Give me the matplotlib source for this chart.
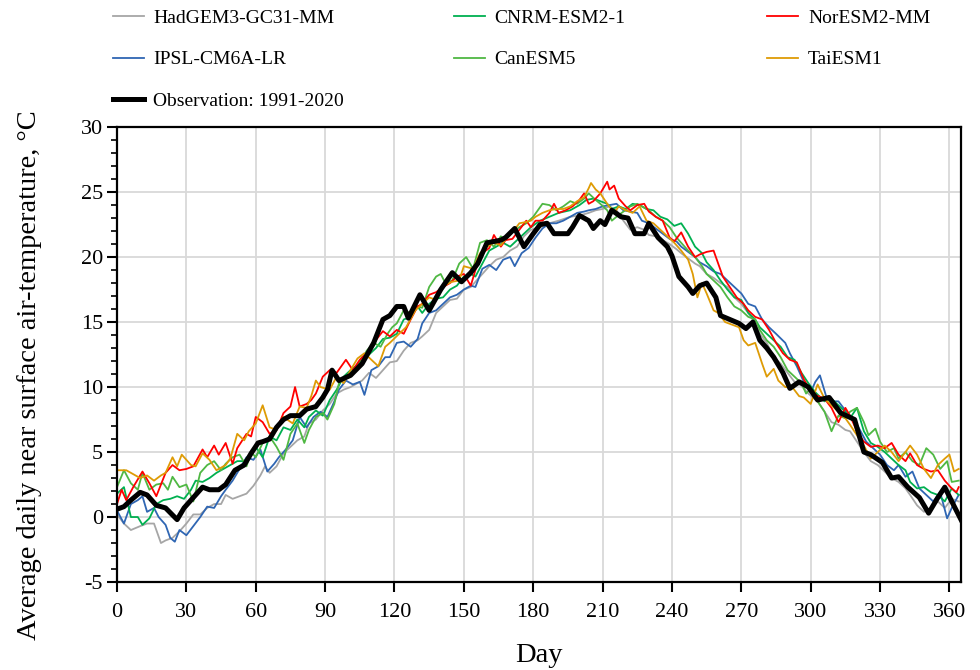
import matplotlib
matplotlib.use("Agg")
import matplotlib.pyplot as plt
from matplotlib.ticker import MultipleLocator

plt.rcParams['font.family'] = ['Liberation Serif', 'DejaVu Serif']
plt.rcParams['axes.unicode_minus'] = False

# (day, temperature)
hadgem = [(0,0.2),(3,-0.5),(6,-1.0),(10,-0.7),(13,-0.5),(16,-0.5),(19,-2.0),(21,-1.8),(24,-1.6),(27,-1.1),(30,-0.5),(33,0.2),(36,0.2),(39,0.7),(42,1.0),(45,1.0),(47,1.7),(50,1.4),(53,1.6),(56,1.8),(59,2.4),(62,3.2),(64,3.9),(66,3.4),(69,3.9),(72,4.9),(75,5.4),(78,5.9),(81,6.2),(83,7.2),(86,7.5),(89,8.2),(92,8.7),(95,9.5),(98,9.8),(101,10.0),(104,10.3),(106,10.5),(109,11.1),(112,10.7),(115,11.3),(118,11.9),(121,12.0),(124,12.8),(127,13.4),(130,13.6),(132,13.9),(135,14.4),(138,15.7),(141,16.2),(144,16.7),(147,16.8),(150,17.5),(153,17.7),(155,18.1),(158,18.7),(161,19.3),(164,19.8),(167,20.0),(170,20.5),(173,20.8),(176,21.6),(179,22.1),(183,22.3),(187,22.6),(191,22.8),(196,23.1),(200,23.2),(204,23.4),(207,23.6),(210,23.7),(213,23.9),(216,23.6),(219,22.8),(222,22.1),(225,22.3),(228,22.1),(230,21.7),(233,21.6),(236,21.3),(239,21.0),(242,20.6),(244,20.3),(247,19.9),(250,19.5),(252,19.3),(255,18.7),(258,18.4),(261,18.0),(264,17.7),(267,16.9),(270,16.4),(273,15.7),(276,14.9),(278,14.1),(281,13.4),(284,12.3),(287,11.8),(290,11.1),(293,10.4),(296,10.1),(299,9.5),(303,8.9),(306,8.1),(309,7.3),(312,7.1),(315,6.7),(317,6.6),(320,5.8),(323,5.0),(326,4.3),(329,4.0),(332,3.5),(335,3.0),(338,2.7),(341,2.2),(343,1.7),(346,0.9),(349,0.4),(352,0.7),(355,1.2),(358,0.7),(361,1.4),(364,1.2)]

cnrm = [(0,1.8),(3,2.3),(6,0.0),(9,0.0),(11,-0.6),(14,-0.1),(17,1.0),(20,1.3),(23,1.4),(26,1.6),(29,1.4),(32,2.1),(34,2.8),(37,2.7),(40,3.0),(43,3.4),(46,3.7),(49,4.0),(52,4.3),(55,4.3),(58,4.9),(60,5.4),(63,4.6),(66,6.2),(69,5.9),(72,6.9),(75,6.7),(78,7.5),(81,6.9),(83,7.7),(86,8.2),(89,7.8),(92,9.0),(95,9.8),(98,10.8),(101,11.3),(104,11.7),(106,12.3),(109,12.5),(112,13.0),(115,13.7),(118,13.8),(121,14.1),(124,15.2),(127,15.4),(130,16.2),(132,15.7),(135,16.4),(138,16.8),(141,16.9),(144,17.5),(147,17.8),(150,18.5),(153,18.7),(155,18.5),(158,19.5),(161,20.5),(164,20.8),(167,21.1),(170,20.8),(173,21.3),(176,21.8),(179,22.3),(183,22.8),(187,23.1),(191,23.4),(196,23.6),(200,24.0),(203,24.4),(206,24.5),(209,24.3),(212,24.1),(214,23.7),(217,23.9),(220,23.7),(223,24.1),(226,24.0),(229,23.7),(232,23.6),(235,23.1),(238,22.9),(241,22.4),(244,22.6),(247,21.8),(250,20.8),(253,20.3),(255,19.6),(258,19.0),(261,18.2),(264,17.5),(267,16.9),(270,16.7),(273,15.7),(276,15.2),(278,14.6),(281,14.1),(284,13.6),(287,13.1),(290,12.3),(293,12.1),(296,11.1),(299,10.3),(302,9.6),(306,8.9),(309,9.1),(312,8.6),(315,8.1),(317,7.6),(320,8.4),(323,6.6),(326,5.7),(329,5.4),(332,5.0),(335,4.5),(338,4.0),(341,3.6),(343,2.7),(346,2.2),(349,2.3),(352,1.9),(355,1.7),(358,1.2),(361,2.2),(364,1.7)]

noresm = [(0,1.0),(2,2.1),(4,1.3),(7,2.3),(11,3.5),(14,2.6),(17,1.6),(21,3.4),(24,4.0),(27,3.6),(30,3.7),(33,3.9),(37,5.2),(39,4.6),(42,5.5),(44,4.8),(47,5.7),(50,4.1),(52,5.3),(56,6.4),(58,6.2),(60,7.7),(63,7.3),(66,6.4),(69,6.7),(72,8.0),(75,8.5),(77,10.0),(79,8.5),(82,8.7),(84,9.0),(86,9.5),(89,10.8),(92,11.3),(95,11.1),(99,12.1),(102,11.3),(105,12.1),(108,12.6),(111,13.4),(115,14.3),(118,13.9),(121,14.4),(124,14.1),(127,15.2),(130,16.2),(132,16.4),(135,17.1),(138,17.3),(141,17.7),(144,18.0),(147,18.5),(150,18.7),(153,17.8),(155,19.0),(158,20.3),(161,20.7),(163,21.7),(166,20.8),(168,21.3),(171,21.4),(174,22.1),(177,22.8),(179,22.3),(181,22.8),(184,22.8),(187,23.4),(189,24.1),(191,23.4),(194,23.6),(197,23.9),(200,24.4),(202,24.9),(204,24.1),(206,24.3),(209,24.9),(212,25.8),(213,25.2),(215,25.5),(217,24.5),(220,23.9),(222,23.6),(225,24.0),(228,24.1),(230,23.5),(233,23.1),(236,22.8),(239,21.5),(241,21.2),(244,21.9),(247,20.8),(250,20.0),(252,20.2),(255,20.4),(258,20.5),(260,19.5),(262,18.5),(265,17.7),(268,16.9),(271,16.4),(273,15.9),(276,15.4),(279,15.2),(282,14.4),(285,13.4),(288,12.6),(291,12.1),(294,11.9),(297,10.6),(299,10.0),(302,9.4),(306,9.1),(309,8.4),(312,7.3),(315,8.4),(317,7.8),(320,6.6),(323,5.8),(326,5.4),(329,5.5),(332,5.3),(335,5.7),(338,4.8),(341,4.3),(343,4.9),(346,4.0),(349,3.7),(352,3.5),(355,3.6),(358,2.8),(361,2.2),(363,1.9),(364,2.3)]

ipsl = [(0,0.5),(3,-0.5),(6,1.0),(9,1.3),(11,1.6),(13,0.4),(16,0.7),(18,0.0),(21,-0.6),(23,-1.6),(25,-1.9),(27,-1.0),(30,-1.4),(33,-0.7),(36,0.0),(39,0.8),(42,0.7),(45,1.6),(47,2.1),(50,2.8),(53,3.7),(56,4.6),(59,4.4),(62,5.2),(65,3.5),(68,4.1),(70,4.6),(73,5.2),(76,5.9),(79,7.7),(82,6.9),(85,7.7),(88,8.1),(91,7.7),(94,8.9),(96,9.8),(99,10.5),(102,10.2),(105,10.4),(107,9.4),(110,11.3),(113,11.6),(116,12.3),(118,12.3),(121,13.4),(124,13.5),(127,13.1),(130,13.7),(132,14.9),(135,15.7),(138,15.9),(141,16.4),(144,16.9),(147,17.1),(150,17.5),(153,17.8),(155,17.7),(158,19.1),(161,19.4),(164,19.0),(167,19.8),(170,20.0),(172,19.3),(175,20.3),(178,20.7),(181,21.5),(184,22.2),(187,22.6),(190,22.6),(193,22.8),(196,23.1),(199,23.4),(202,23.5),(204,23.6),(207,23.7),(210,23.9),(213,24.0),(216,24.1),(219,23.6),(222,23.5),(225,23.4),(227,22.8),(230,22.6),(233,22.2),(236,21.8),(239,21.4),(242,21.2),(244,20.8),(247,20.4),(250,20.0),(252,19.6),(255,19.3),(258,18.9),(261,18.7),(264,18.2),(267,17.7),(270,17.2),(273,16.4),(276,16.2),(279,15.2),(282,14.6),(285,14.1),(289,13.4),(291,12.6),(294,11.6),(297,10.4),(300,9.6),(302,10.4),(304,10.9),(307,9.1),(310,8.9),(312,8.9),(315,8.2),(318,7.6),(321,6.8),(324,5.8),(327,5.3),(330,4.8),(333,4.0),(336,3.6),(338,4.0),(341,3.1),(344,3.5),(347,2.2),(350,1.7),(353,1.2),(356,1.9),(359,-0.1),(361,0.7),(364,1.7)]

canesm = [(0,2.3),(3,3.6),(6,2.6),(9,2.1),(11,3.4),(14,2.1),(17,2.5),(20,2.6),(22,2.1),(24,3.1),(27,2.3),(30,2.5),(33,1.2),(36,3.4),(39,4.0),(42,4.3),(45,3.6),(47,4.1),(50,4.6),(53,4.8),(56,3.9),(58,5.0),(60,4.6),(63,5.7),(66,6.2),(69,5.4),(72,4.4),(75,6.4),(78,7.2),(81,5.7),(83,6.7),(86,7.7),(89,8.0),(91,7.5),(94,8.7),(96,10.3),(99,10.8),(102,11.2),(105,11.8),(108,12.8),(111,13.4),(114,13.1),(117,14.1),(119,14.6),(121,14.9),(124,15.9),(127,15.7),(130,16.2),(132,16.1),(135,17.7),(138,18.5),(140,18.7),(142,18.0),(145,18.2),(148,19.5),(151,20.0),(154,19.1),(157,21.1),(160,21.3),(163,20.8),(166,21.6),(168,21.3),(171,21.9),(174,22.3),(177,22.6),(180,23.1),(182,23.6),(184,24.1),(187,24.0),(190,23.6),(193,23.9),(196,24.3),(199,24.1),(202,24.5),(204,24.9),(207,24.4),(209,24.1),(212,23.6),(214,22.8),(216,23.1),(219,23.5),(222,23.9),(225,24.1),(227,23.9),(230,23.6),(233,23.1),(236,22.8),(239,22.3),(242,21.5),(244,21.1),(247,20.5),(250,20.0),(253,19.3),(255,18.7),(258,18.2),(261,17.7),(264,16.9),(267,16.2),(270,15.9),(273,15.4),(276,15.2),(278,14.4),(281,13.6),(284,13.1),(287,12.3),(290,11.3),(293,10.8),(296,10.3),(298,9.5),(300,9.9),(303,8.9),(306,8.1),(309,6.6),(312,7.8),(315,7.6),(317,8.1),(320,8.4),(323,7.3),(325,6.3),(328,6.8),(330,5.8),(333,5.0),(336,5.3),(338,4.5),(341,5.0),(344,4.3),(347,4.0),(350,5.3),(353,4.8),(356,3.7),(359,4.3),(361,2.7),(364,2.8)]

taiesm = [(0,3.6),(4,3.6),(10,3.0),(13,3.2),(16,2.8),(19,3.2),(21,3.4),(24,4.6),(26,3.9),(28,4.8),(32,4.0),(34,3.9),(37,4.9),(40,4.4),(43,3.6),(47,4.0),(49,4.5),(52,6.4),(55,5.9),(57,6.6),(60,7.2),(63,8.6),(66,6.9),(69,6.7),(72,7.7),(76,7.2),(79,8.5),(82,8.4),(84,9.3),(86,10.5),(88,10.0),(92,9.8),(95,10.8),(98,10.3),(101,11.3),(104,12.2),(107,12.6),(110,12.1),(113,11.6),(116,13.1),(118,13.4),(122,14.1),(125,14.6),(129,15.9),(132,16.4),(135,16.9),(138,16.7),(141,17.8),(145,18.1),(148,18.2),(150,19.3),(154,19.1),(157,20.3),(160,20.8),(163,21.1),(166,20.9),(169,21.6),(171,21.9),(174,22.6),(177,22.7),(179,22.8),(181,23.1),(184,23.4),(187,23.6),(190,23.7),(193,23.7),(196,23.9),(199,24.3),(202,24.6),(204,25.3),(205,25.7),(207,25.2),(209,24.9),(212,24.1),(215,23.4),(217,23.9),(220,23.6),(223,23.4),(226,23.9),(229,22.8),(232,22.6),(235,22.1),(238,21.6),(241,21.1),(244,20.5),(247,19.8),(249,18.7),(251,16.9),(253,18.0),(255,17.2),(258,15.9),(260,15.7),(263,15.0),(266,14.8),(269,14.6),(271,13.6),(273,13.2),(276,13.4),(279,11.8),(281,10.8),(284,11.4),(286,10.5),(289,10.0),(292,10.0),(295,9.3),(297,9.2),(300,8.7),(303,10.2),(306,9.1),(309,8.6),(312,8.1),(315,7.6),(317,7.1),(320,6.3),(323,5.5),(326,4.5),(329,5.0),(332,5.5),(335,5.0),(338,4.3),(341,5.0),(343,5.5),(346,4.8),(349,3.7),(352,3.0),(355,4.0),(358,4.5),(360,4.8),(362,3.5),(364,3.7)]

observed = [(0,0.6),(3,0.8),(6,1.3),(10,1.9),(13,1.7),(17,0.9),(21,0.7),(26,-0.2),(29,0.7),(33,1.5),(37,2.3),(40,2.1),(44,2.1),(47,2.5),(51,3.6),(55,4.0),(58,4.9),(61,5.7),(63,5.8),(66,6.0),(69,6.9),(72,7.5),(75,7.8),(79,7.8),(82,8.3),(86,8.5),(89,9.2),(91,9.8),(93,11.3),(96,10.5),(101,10.9),(106,11.8),(111,13.4),(115,15.2),(118,15.5),(121,16.2),(124,16.2),(126,15.3),(131,17.1),(135,15.9),(140,17.5),(145,18.8),(149,18.1),(153,18.8),(156,19.5),(160,21.1),(166,21.3),(168,21.5),(172,22.2),(176,20.8),(180,21.8),(183,22.5),(186,22.6),(189,21.8),(195,21.8),(197,22.3),(200,23.2),(204,22.8),(206,22.2),(209,22.8),(211,22.5),(214,23.6),(218,23.1),(221,23.0),(224,21.8),(228,21.8),(230,22.6),(234,21.5),(238,20.8),(240,20.1),(243,18.5),(247,17.7),(249,17.2),(252,17.8),(255,18.0),(259,16.9),(261,15.5),(265,15.2),(269,14.9),(272,14.5),(275,15.0),(278,13.6),(281,13.0),(284,12.3),(288,11.1),(291,9.9),(295,10.4),(299,10.0),(303,9.0),(308,9.2),(313,8.0),(319,7.5),(323,5.0),(326,4.8),(331,4.2),(335,3.0),(338,3.1),(342,2.3),(347,1.5),(351,0.3),(355,1.5),(358,2.3),(361,1.2),(365,-0.2)]

models = [
    ("HadGEM3-GC31-MM", hadgem, "#a6a6a6"),
    ("IPSL-CM6A-LR", ipsl, "#2f66b3"),
    ("CNRM-ESM2-1", cnrm, "#00b050"),
    ("CanESM5", canesm, "#4fb843"),
    ("NorESM2-MM", noresm, "#ff0000"),
    ("TaiESM1", taiesm, "#de9b05"),
]

fig = plt.figure(figsize=(9.8, 6.7), dpi=100)
ax = fig.add_axes([0.1194, 0.1313, 0.8612, 0.679])

lines = {}
for name, data, col in models:
    d = [p[0] for p in data]
    t = [p[1] for p in data]
    lines[name], = ax.plot(d, t, color=col, lw=1.3, label=name, zorder=2)

od = [p[0] for p in observed]
ot = [p[1] for p in observed]
lines["obs"], = ax.plot(od, ot, color="black", lw=3.6, label="Observation: 1991-2020",
                        zorder=3, solid_joinstyle="round")

ax.set_xlim(0, 365)
ax.set_ylim(-5, 30)
ax.set_xticks(range(0, 361, 30))
ax.set_yticks(range(-5, 31, 5))
ax.yaxis.set_minor_locator(MultipleLocator(1))
ax.tick_params(axis="both", which="major", direction="out", length=7, width=1.5,
               labelsize=16)
ax.tick_params(axis="x", which="major", pad=8)
ax.tick_params(axis="y", which="major", pad=3)
ax.tick_params(axis="y", which="minor", direction="out", length=4, width=1.2)
ax.grid(True, which="major", color="#d9d9d9", lw=1.3)
ax.set_axisbelow(True)
for s in ax.spines.values():
    s.set_linewidth(1.6)
    s.set_color("black")

ax.set_xlabel("Day", fontsize=20.5, labelpad=15)
ax.set_ylabel("Average daily near surface air-temperature, \u00b0C", fontsize=20.5)
ax.yaxis.set_label_coords(-0.089, 0.455)

cols = [
    (["HadGEM3-GC31-MM", "IPSL-CM6A-LR", "obs"], 0.110),
    (["CNRM-ESM2-1", "CanESM5"], 0.458),
    (["NorESM2-MM", "TaiESM1"], 0.778),
]
for keys, x0 in cols:
    hs = [lines[k] for k in keys]
    fig.legend(handles=hs, labels=[h.get_label() for h in hs], loc="upper left",
               bbox_to_anchor=(x0, 0.993), frameon=False, fontsize=14,
               handlelength=1.6, handletextpad=0.5, labelspacing=1.22,
               borderpad=0.25, borderaxespad=0)

fig.savefig("out.png", dpi=100)
